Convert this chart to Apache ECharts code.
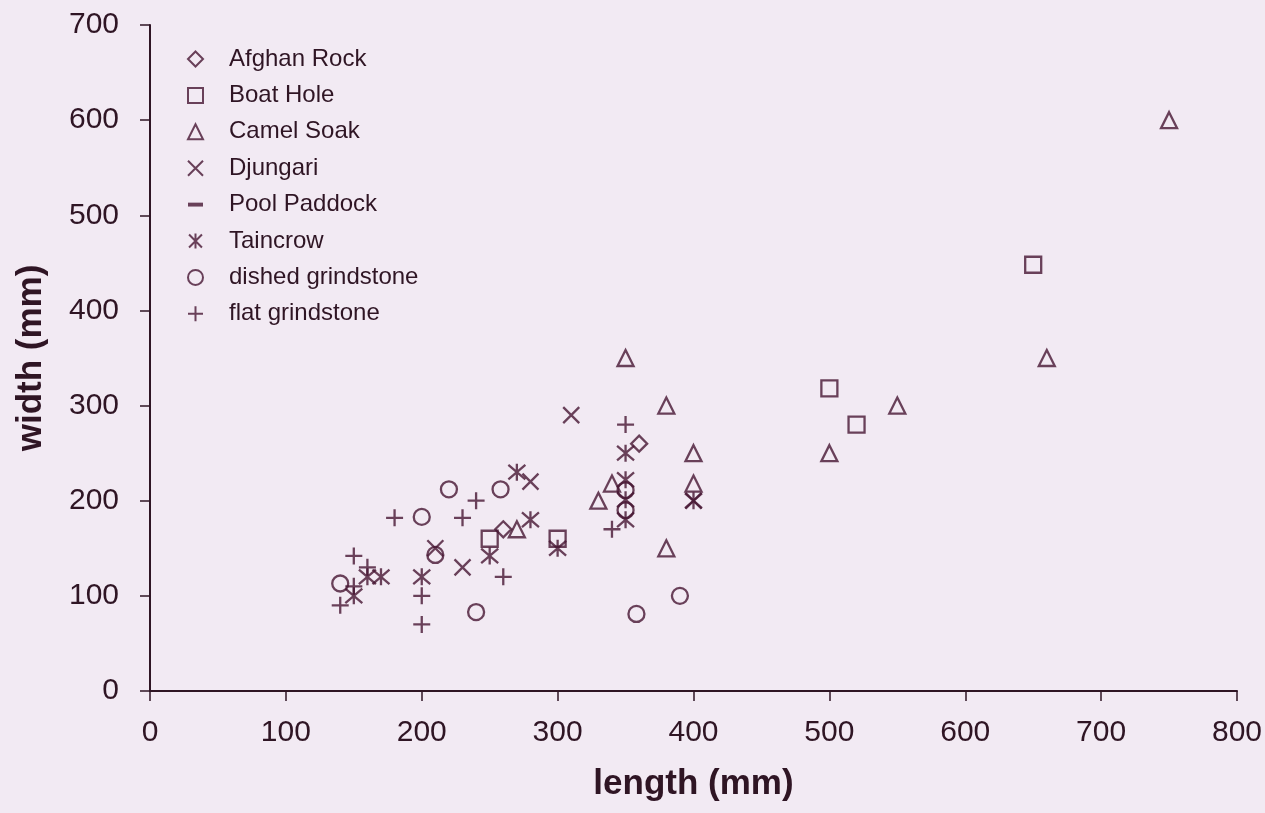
<!DOCTYPE html>
<html>
<head>
<meta charset="utf-8">
<script src="https://cdn.jsdelivr.net/npm/echarts@6/dist/echarts.min.js"></script>
<style>
html,body{margin:0;padding:0;background:#f2eaf3;}
#chart{width:1265px;height:813px;}
</style>
</head>
<body>
<div id="chart"></div>
<script>
const xTicks = [0,100,200,300,400,500,600,700,800];
const yTicks = [0,100,200,300,400,500,600,700];

const afghanRock = [[260,170],[360,260]];
const boatHole = [[250,160],[300,160],[500,318],[520,280],[650,448]];
const camelSoak = [[270,170],[330,200],[340,218],[380,150],[350,350],[380,300],[400,250],[400,218],[500,250],[550,300],[660,350],[750,600]];
const djungari = [[210,150],[230,130],[280,220],[310,290],[400,200]];
const poolPaddock = [];
const taincrow = [[150,100],[160,120],[170,120],[200,120],[250,142],[270,230],[280,180],[300,150],[350,250],[350,222],[350,201],[350,180],[400,200]];
const dishedGrindstone = [[140,113],[200,183],[210,143],[220,212],[240,83],[258,212],[350,211],[350,190],[358,81],[390,100]];
const flatGrindstone = [[140,90],[150,110],[150,142],[160,130],[180,182],[200,70],[200,100],[230,182],[240,200],[260,120],[340,170],[350,280]];

const INK = '#2f1524';
const MARK = '#461532';
const FONT = 'Liberation Sans, Arial, Helvetica, sans-serif';

const SYM_X = 'path://M0,0L10,10M10,0L0,10';
const SYM_AST = 'path://M5,0L5,10M0.7,0.7L9.3,9.3M9.3,0.7L0.7,9.3';
const SYM_PLUS = 'path://M5,0L5,10M0,5L10,5';
const SYM_DASH = 'path://M0,0L10,0L10,2.6L0,2.6Z';

function mk(name, data, symbol, size, filled) {
  return {
    name: name,
    type: 'scatter',
    data: data,
    symbol: symbol,
    symbolSize: size,
    itemStyle: filled ? {color: MARK, borderWidth: 0} : {color: 'transparent', borderColor: MARK, borderWidth: 2.3},
    emphasis: {disabled: true}
  };
}

const chart = echarts.init(document.getElementById('chart'));
chart.setOption({
  backgroundColor: '#f2eaf3',
  animation: false,
  grid: {left: 150, right: 28, top: 25, bottom: 122, containLabel: false, outerBoundsMode: 'none'},
  legend: {
    orient: 'vertical',
    left: 182,
    top: 42,
    itemWidth: 15,
    itemHeight: 15,
    itemGap: 12.4,
    textStyle: {fontFamily: FONT, fontSize: 24, color: INK, lineHeight: 24, padding: [0,0,0,21]},
    data: ['Afghan Rock','Boat Hole','Camel Soak','Djungari','Pool Paddock','Taincrow','dished grindstone','flat grindstone']
  },
  xAxis: {
    type: 'value',
    min: xTicks[0], max: xTicks[xTicks.length-1], interval: 100,
    name: 'length (mm)', nameLocation: 'middle', nameGap: 76,
    nameTextStyle: {fontFamily: FONT, fontSize: 35, fontWeight: 'bold', color: INK},
    axisLine: {show: true, lineStyle: {color: INK, width: 2}},
    axisTick: {show: true, length: 10, lineStyle: {color: INK, width: 1.5}},
    axisLabel: {margin: 27, fontFamily: FONT, fontSize: 30, color: INK},
    splitLine: {show: false}
  },
  yAxis: {
    type: 'value',
    min: yTicks[0], max: yTicks[yTicks.length-1], interval: 100,
    name: 'width (mm)', nameLocation: 'middle', nameGap: 101,
    nameTextStyle: {fontFamily: FONT, fontSize: 35, fontWeight: 'bold', color: INK},
    axisLine: {show: true, lineStyle: {color: INK, width: 2}},
    axisTick: {show: true, length: 10, lineStyle: {color: INK, width: 1.5}},
    axisLabel: {margin: 31, fontFamily: FONT, fontSize: 30, color: INK},
    splitLine: {show: false}
  },
  series: [
    mk('Afghan Rock', afghanRock, 'diamond', 16, false),
    mk('Boat Hole', boatHole, 'rect', 16, false),
    mk('Camel Soak', camelSoak, 'triangle', 16, false),
    mk('Djungari', djungari, SYM_X, 16, false),
    mk('Pool Paddock', poolPaddock, SYM_DASH, [14,4], true),
    mk('Taincrow', taincrow, SYM_AST, 17, false),
    mk('dished grindstone', dishedGrindstone, 'circle', 16, false),
    mk('flat grindstone', flatGrindstone, SYM_PLUS, 17, false)
  ]
});
</script>
</body>
</html>
